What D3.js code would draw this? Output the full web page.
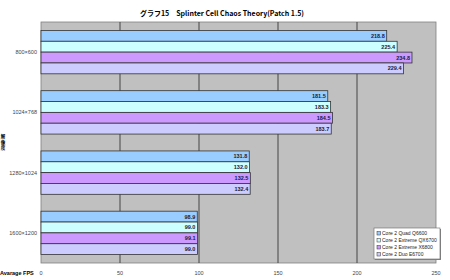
<!DOCTYPE html>
<html>
<head>
<meta charset="UTF-8">
<style>
  body { margin: 0; background: #fff; }
  text { font-family: "Liberation Sans", Arial, sans-serif; }
</style>
</head>
<body>
<script src="https://cdn.jsdelivr.net/npm/d3@7"></script>
<script>
var categories = ['800×600', '1024×768', '1280×1024', '1600×1200'];
var seriesNames = ['Core 2 Quad Q6600', 'Core 2 Extreme QX6700', 'Core 2 Extreme X6800', 'Core 2 Duo E6700'];
var q6600  = [218.8, 181.5, 131.8, 98.9];
var qx6700 = [225.4, 183.3, 132.0, 99.0];
var x6800  = [234.8, 184.5, 132.5, 99.1];
var e6700  = [229.4, 183.7, 132.4, 99.0];
var ticks  = [0, 50, 100, 150, 200, 250];
var colors = ['#99ccff', '#ccffff', '#cc99ff', '#ccccff'];

var w = 450, h = 280;
var plotL = 41, plotR = 436, plotT = 22, plotB = 263;

var series = [q6600, qx6700, x6800, e6700];

var svg = d3.select('body').append('svg')
    .attr('width', w).attr('height', h);

var x = d3.scaleLinear().domain([0, 250]).range([plotL, plotR]);
var y0 = d3.scaleBand().domain(categories).range([plotT, plotB]).paddingInner(0.28).paddingOuter(0.14);
var y1 = d3.scaleBand().domain(d3.range(4)).range([0, y0.bandwidth()]);

// title
svg.append('text')
    .attr('x', 222).attr('y', 16)
    .attr('text-anchor', 'middle')
    .style('font-family', '"Noto Sans CJK JP", sans-serif')
    .style('font-size', '7px')
    .style('font-weight', 'bold')
    .attr('fill', '#000')
    .text('グラフ15　Splinter Cell Chaos Theory(Patch 1.5)');

// plot background
svg.append('rect')
    .attr('x', plotL).attr('y', plotT)
    .attr('width', plotR - plotL).attr('height', plotB - plotT)
    .attr('fill', '#c0c0c0')
    .attr('stroke', '#808080').attr('stroke-width', 0.8);

// grid lines
svg.selectAll('line.grid')
    .data(ticks.slice(1, -1))
    .enter().append('line')
    .attr('class', 'grid')
    .attr('x1', function(d) { return x(d); })
    .attr('x2', function(d) { return x(d); })
    .attr('y1', plotT).attr('y2', plotB)
    .attr('stroke', '#444').attr('stroke-width', 1);

// x tick labels
svg.selectAll('text.xtick')
    .data(ticks)
    .enter().append('text')
    .attr('class', 'xtick')
    .attr('x', function(d) { return x(d); })
    .attr('y', 275)
    .attr('text-anchor', 'middle')
    .style('font-size', '5.5px')
    .attr('fill', '#444')
    .text(function(d) { return d; });

// category labels
svg.selectAll('text.cat')
    .data(categories)
    .enter().append('text')
    .attr('class', 'cat')
    .attr('x', 37)
    .attr('y', function(d) { return y0(d) + y0.bandwidth() / 2 + 2; })
    .attr('text-anchor', 'end')
    .style('font-size', '5.5px')
    .attr('fill', '#444')
    .text(function(d) { return d; });

// bars
var groups = svg.selectAll('g.grp')
    .data(categories)
    .enter().append('g')
    .attr('class', 'grp')
    .attr('transform', function(d) { return 'translate(0,' + y0(d) + ')'; });

groups.each(function(c, ci) {
    var g = d3.select(this);
    series.forEach(function(s, si) {
        g.append('rect')
            .attr('x', x(0))
            .attr('y', y1(si))
            .attr('width', x(s[ci]) - x(0))
            .attr('height', y1.bandwidth())
            .attr('fill', colors[si])
            .attr('stroke', '#333').attr('stroke-width', 0.8);
        g.append('text')
            .attr('x', x(s[ci]) - 2)
            .attr('y', y1(si) + y1.bandwidth() / 2 + 2)
            .attr('text-anchor', 'end')
            .style('font-size', '5.5px')
            .style('font-weight', 'bold')
            .attr('fill', '#1a1a3a')
            .text(s[ci].toFixed(1));
    });
});

// axis titles
svg.append('text')
    .attr('x', 0).attr('y', 275)
    .style('font-size', '5.5px')
    .style('font-weight', 'bold')
    .attr('fill', '#000')
    .text('Avarage FPS');

svg.selectAll('text.ytitle')
    .data(['解', '像', '度'])
    .enter().append('text')
    .attr('class', 'ytitle')
    .attr('x', 3)
    .attr('y', function(d, i) { return 138 + i * 5.5; })
    .attr('text-anchor', 'middle')
    .style('font-family', '"Noto Sans CJK JP", sans-serif')
    .style('font-size', '4.5px')
    .style('font-weight', 'bold')
    .attr('fill', '#000')
    .text(function(d) { return d; });

// legend
var lg = svg.append('g').attr('transform', 'translate(374,228)');
lg.append('rect')
    .attr('x', 1).attr('y', 1).attr('width', 66).attr('height', 31)
    .attr('fill', '#888');
lg.append('rect')
    .attr('width', 66).attr('height', 31)
    .attr('fill', '#fff')
    .attr('stroke', '#666').attr('stroke-width', 0.6);
var items = lg.selectAll('g.item')
    .data(seriesNames)
    .enter().append('g')
    .attr('class', 'item')
    .attr('transform', function(d, i) { return 'translate(3,' + (3 + i * 7) + ')'; });
items.append('rect')
    .attr('width', 3.5).attr('height', 3.5)
    .attr('y', 0.5)
    .attr('fill', function(d, i) { return colors[i]; })
    .attr('stroke', '#333').attr('stroke-width', 0.5);
items.append('text')
    .attr('x', 5).attr('y', 4)
    .style('font-size', '5px')
    .attr('fill', '#222')
    .text(function(d) { return d; });
</script>
</body>
</html>
